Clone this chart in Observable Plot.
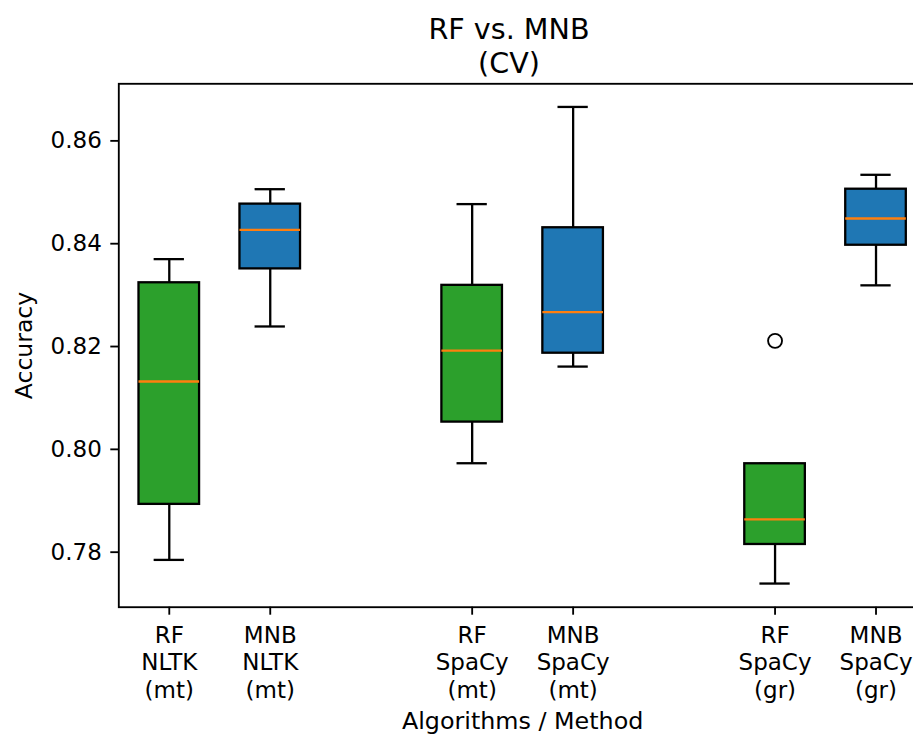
<!DOCTYPE html>
<html>
<head>
<meta charset="utf-8">
<script src="https://cdn.jsdelivr.net/npm/d3@7"></script>
<script src="https://cdn.jsdelivr.net/npm/@observablehq/plot@0.6"></script>
<style>
  html, body { margin: 0; padding: 0; background: #fff; overflow: hidden; width: 913px; height: 735px; }
  #title { position: relative; height: 70px; font-family: "DejaVu Sans"; font-size: 28.6px; color: #000; }
  #title div { position: absolute; left: 509px; top: 11.5px; transform: translateX(-50%); white-space: nowrap; line-height: 34.5px; text-align: center; }
  #chart svg { display: block; }
</style>
</head>
<body>
<div id="title"><div>RF vs. MNB<br>(CV)</div></div>
<div id="chart"></div>
<script>
// ---- data ----
const methods = ["NLTK\n(mt)", "SpaCy\n(mt)", "SpaCy\n(gr)"];
const algorithms = ["RF", "MNB"];
const boxMethod = [0, 0, 1, 1, 2, 2];
const boxAlgorithm = ["RF", "MNB", "RF", "MNB", "RF", "MNB"];
const whiskerLow  = [0.7785, 0.8239, 0.7973, 0.8161, 0.7739, 0.8319];
const q1          = [0.7893, 0.8351, 0.8053, 0.8187, 0.7815, 0.8397];
const median      = [0.8132, 0.8427, 0.8192, 0.8267, 0.7864, 0.8449];
const q3          = [0.8324, 0.8477, 0.8319, 0.8431, 0.7972, 0.8506];
const whiskerHigh = [0.8370, 0.8506, 0.8477, 0.8666, 0.7972, 0.8534];
const outlierBox   = [4];
const outlierValue = [0.8211];
const yTicks = [0.78, 0.80, 0.82, 0.84, 0.86];
const yLabel = "Accuracy";
const xLabel = "Algorithms / Method";

// ---- derived table ----
const posOf = i => boxMethod[i] * 3 + algorithms.indexOf(boxAlgorithm[i]) + 1;
const rows = boxAlgorithm.map((a, i) => ({
  pos: posOf(i), alg: a, label: a + "\n" + methods[boxMethod[i]],
  lo: whiskerLow[i], q1: q1[i], med: median[i], q3: q3[i], hi: whiskerHigh[i]
}));
const outRows = outlierBox.map((b, k) => ({pos: posOf(b), v: outlierValue[k]}));
const labelByPos = new Map(rows.map(d => [d.pos, d.label]));

const halfBox = 0.3, halfCap = 0.15;
const lw = 2.3, sw = 1.85;

const chart = Plot.plot({
  width: 913,
  height: 665,
  marginLeft: 118.3,
  marginRight: -13,
  marginTop: 13.3,
  marginBottom: 128.3,
  style: {fontFamily: "DejaVu Sans", fontSize: "23px", background: "#fff", color: "#000"},
  x: {type: "linear", domain: [0.5, 8.5], range: [118.3, 926]},
  y: {domain: [0.7693, 0.8711], range: [536.7, 13.3]},
  color: {domain: algorithms, range: ["#2ca02c", "#1f77b4"]},
  marks: [
    Plot.ruleX(rows, {x: "pos", y1: "lo", y2: "q1", stroke: "#000", strokeWidth: lw}),
    Plot.ruleX(rows, {x: "pos", y1: "q3", y2: "hi", stroke: "#000", strokeWidth: lw}),
    Plot.ruleY(rows, {y: "lo", x1: d => d.pos - halfCap, x2: d => d.pos + halfCap, stroke: "#000", strokeWidth: lw}),
    Plot.ruleY(rows, {y: "hi", x1: d => d.pos - halfCap, x2: d => d.pos + halfCap, stroke: "#000", strokeWidth: lw}),
    Plot.rect(rows, {x1: d => d.pos - halfBox, x2: d => d.pos + halfBox, y1: "q1", y2: "q3", fill: "alg", stroke: "#000", strokeWidth: lw}),
    Plot.ruleY(rows, {y: "med", x1: d => d.pos - halfBox, x2: d => d.pos + halfBox, stroke: "#ff7f0e", strokeWidth: lw}),
    Plot.dot(outRows, {x: "pos", y: "v", r: 7, stroke: "#000", fill: "none", strokeWidth: sw}),
    Plot.axisY({ticks: yTicks, tickFormat: d3.format(".2f"), tickSize: 8, tickPadding: 9, fontSize: 23, label: null, strokeWidth: sw}),
    Plot.axisX({ticks: rows.map(d => d.pos), tickFormat: p => labelByPos.get(p), tickSize: 8, tickPadding: 8, lineHeight: 1.2, fontSize: 23, label: null, strokeWidth: sw}),
    Plot.frame({stroke: "#000", strokeWidth: sw}),
    Plot.text([yLabel], {frameAnchor: "left", textAnchor: "middle", lineAnchor: "middle", dx: -94.3, rotate: -90, fontSize: 23.5, fill: "#000"}),
    Plot.text([xLabel], {frameAnchor: "bottom", textAnchor: "middle", lineAnchor: "bottom", dy: 121.5, fontSize: 23.8, fill: "#000"})
  ]
});
document.getElementById("chart").appendChild(chart);
</script>
</body>
</html>
